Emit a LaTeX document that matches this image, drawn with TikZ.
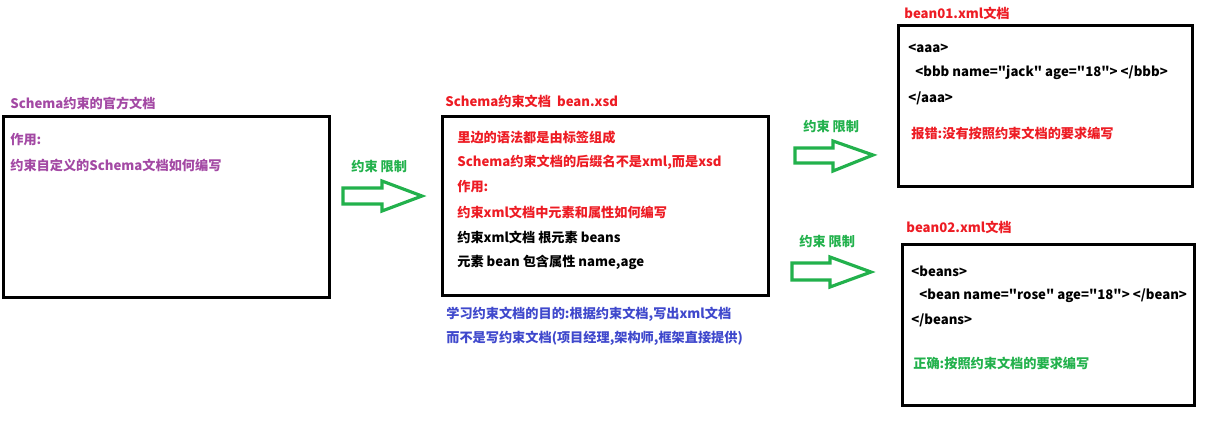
\documentclass[tikz,border=0pt]{standalone}
\usepackage{fontspec}
\newfontfamily\cjkfont{Noto Sans CJK SC}
\usepackage{tikz}
\definecolor{paintpurple}{RGB}{163,73,164}
\definecolor{paintred}{RGB}{237,28,36}
\definecolor{paintblue}{RGB}{63,72,204}
\definecolor{paintgreen}{RGB}{34,177,76}
\tikzset{
  docbox/.style={draw,line width=1.7pt,inner sep=0pt,anchor=north west},
  txt/.style={anchor=west,inner sep=0pt,font=\cjkfont\fontsize{7.5}{9}\selectfont\bfseries},
  fatarrow/.style={draw=paintgreen,line width=1.8pt,line join=miter}
}

\begin{document}
\begin{tikzpicture}[x=0.02cm,y=-0.02cm]
\useasboundingbox (0,0) rectangle (1224,424);
\node[docbox,minimum width=326*0.02cm,minimum height=181*0.02cm] (official) at (2,115) {};
\node[docbox,minimum width=326*0.02cm,minimum height=179*0.02cm] (xsd) at (441,115) {};
\node[docbox,minimum width=294*0.02cm,minimum height=161*0.02cm] (beanA) at (897,24) {};
\node[docbox,minimum width=292*0.02cm,minimum height=161*0.02cm] (beanB) at (901,243) {};
\node[txt,paintpurple] (officialtitle) at (10,103) {Schema约束的官方文档};
\node[txt,paintpurple] (officiala) at (10,140) {作用:};
\node[txt,paintpurple] (officialb) at (10,165) {约束自定义的Schema文档如何编写};
\node[txt,paintred] (xsdtitle) at (445,101) {Schema约束文档\ \ bean.xsd};
\node[txt,paintred] (xsda) at (457,137) {里边的语法都是由标签组成};
\node[txt,paintred] (xsdb) at (457,162) {Schema约束文档的后缀名不是xml,而是xsd};
\node[txt,paintred] (xsdc) at (457,187) {作用:};
\node[txt,paintred] (xsdd) at (457,212) {约束xml文档中元素和属性如何编写};
\node[txt] (xsde) at (457,237) {约束xml文档 根元素 beans};
\node[txt] (xsdf) at (457,262) {元素 bean 包含属性 name,age};
\node[txt,paintblue] (goala) at (446,314) {学习约束文档的目的:根据约束文档,写出xml文档};
\node[txt,paintblue] (goalb) at (446,338) {而不是写约束文档(项目经理,架构师,框架直接提供)};
\node[txt,paintred] (beanAtitle) at (904,13) {bean01.xml文档};
\node[txt] (beanAa) at (908,48) {<aaa>};
\node[txt] (beanAb) at (915,73) {<bbb name="jack" age="18"> </bbb>};
\node[txt] (beanAc) at (908,98) {</aaa>};
\node[txt,paintred] (beanAd) at (911,133) {报错:没有按照约束文档的要求编写};
\node[txt,paintred] (beanBtitle) at (906,227) {bean02.xml文档};
\node[txt] (beanBa) at (911,271) {<beans>};
\node[txt] (beanBb) at (919,296) {<bean name="rose" age="18"> </bean>};
\node[txt] (beanBc) at (911,320) {</beans>};
\node[txt,paintgreen] (beanBd) at (913,363) {正确:按照约束文档的要求编写};
\node[txt,paintgreen] (limita) at (351,167) {约束 限制};
\node[txt,paintgreen] (limitb) at (803,127) {约束 限制};
\node[txt,paintgreen] (limitc) at (799,242) {约束 限制};
\draw[fatarrow] (343,188)--(382,188)--(382,181)--(422,196)--(382,211)--(382,204)--(343,204)--cycle;
\draw[fatarrow] (795,148)--(833,148)--(833,141)--(873,155)--(833,171)--(833,163)--(795,163)--cycle;
\draw[fatarrow] (792,263)--(830,263)--(830,257)--(871,272)--(830,287)--(830,280)--(792,280)--cycle;
\end{tikzpicture}
\end{document}
